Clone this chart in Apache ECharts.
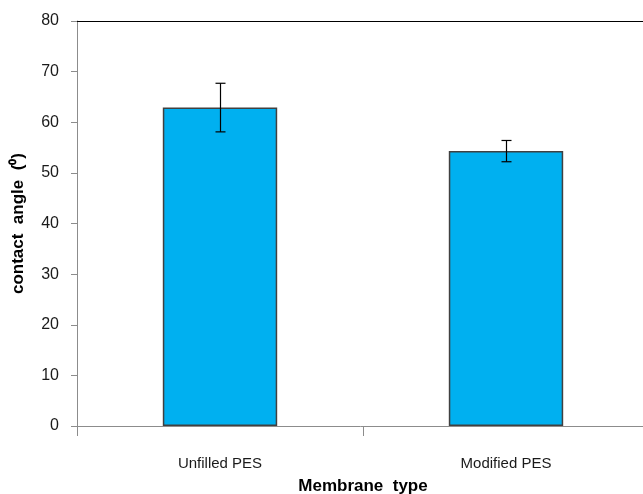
<!DOCTYPE html>
<html><head><meta charset="utf-8">
<script src="https://cdn.jsdelivr.net/npm/echarts@6/dist/echarts.min.js"></script>
<style>html,body{margin:0;padding:0;background:#fff}#c{width:643px;height:494px}</style>
</head><body><div id="c"></div>
<script>
var categories = ['Unfilled PES', 'Modified PES'];
var values = [62.9, 54.3];
var errors = [4.8, 2.1];
var yTicks = [0, 10, 20, 30, 40, 50, 60, 70, 80];

var chart = echarts.init(document.getElementById('c'));
var font = '"Liberation Sans Narrow", "Liberation Sans", sans-serif';
chart.setOption({
  animation: false,
  grid: { left: 77, right: -6, top: 21, bottom: 68, containLabel: false, outerBoundsMode: 'none' },
  xAxis: [{
    type: 'category', data: categories, position: 'bottom',
    axisLine: { lineStyle: { color: '#8c8c8c', width: 1 } },
    axisTick: { show: true, length: 10, alignWithLabel: false, lineStyle: { color: '#8c8c8c' } },
    axisLabel: { color: '#1a1a1a', fontSize: 15, fontFamily: font, margin: 30 },
    name: 'Membrane  type', nameLocation: 'middle', nameGap: 52,
    nameTextStyle: { fontWeight: 'bold', fontSize: 17, color: '#000', fontFamily: 'Liberation Sans, sans-serif' }
  }, {
    type: 'category', data: categories, position: 'top',
    axisLine: { lineStyle: { color: '#000', width: 1.2 } },
    axisTick: { show: false }, axisLabel: { show: false }
  }],
  yAxis: {
    type: 'value', min: yTicks[0], max: yTicks[yTicks.length - 1], interval: 10,
    splitLine: { show: false },
    axisLine: { show: true, lineStyle: { color: '#8c8c8c' } },
    axisTick: { show: true, length: 6, lineStyle: { color: '#8c8c8c' } },
    axisLabel: { color: '#1a1a1a', fontSize: 16, fontFamily: font, margin: 18 },
    name: 'contact  angle  (\u2070)', nameLocation: 'middle', nameGap: 50, nameRotate: 90,
    nameTextStyle: { fontWeight: 'bold', fontSize: 17, color: '#000', fontFamily: 'Liberation Sans, sans-serif' }
  },
  series: [{
    type: 'bar', data: values, barWidth: '40%',
    itemStyle: { color: '#00B0F0', borderColor: '#404040', borderWidth: 1.5 }
  }, {
    type: 'custom',
    data: categories.map(function (c, i) { return [i, values[i] - errors[i], values[i] + errors[i]]; }),
    renderItem: function (params, api) {
      var lo = api.coord([api.value(0), api.value(1)]);
      var hi = api.coord([api.value(0), api.value(2)]);
      var x = Math.round(lo[0]) + 0.5, hw = 5;
      var st = { stroke: '#000', lineWidth: 1.2 };
      return { type: 'group', children: [
        { type: 'line', shape: { x1: x, y1: hi[1], x2: x, y2: lo[1] }, style: st },
        { type: 'line', shape: { x1: x - hw, y1: hi[1], x2: x + hw, y2: hi[1] }, style: st },
        { type: 'line', shape: { x1: x - hw, y1: lo[1], x2: x + hw, y2: lo[1] }, style: st }
      ]};
    },
    z: 10
  }]
});
</script></body></html>
